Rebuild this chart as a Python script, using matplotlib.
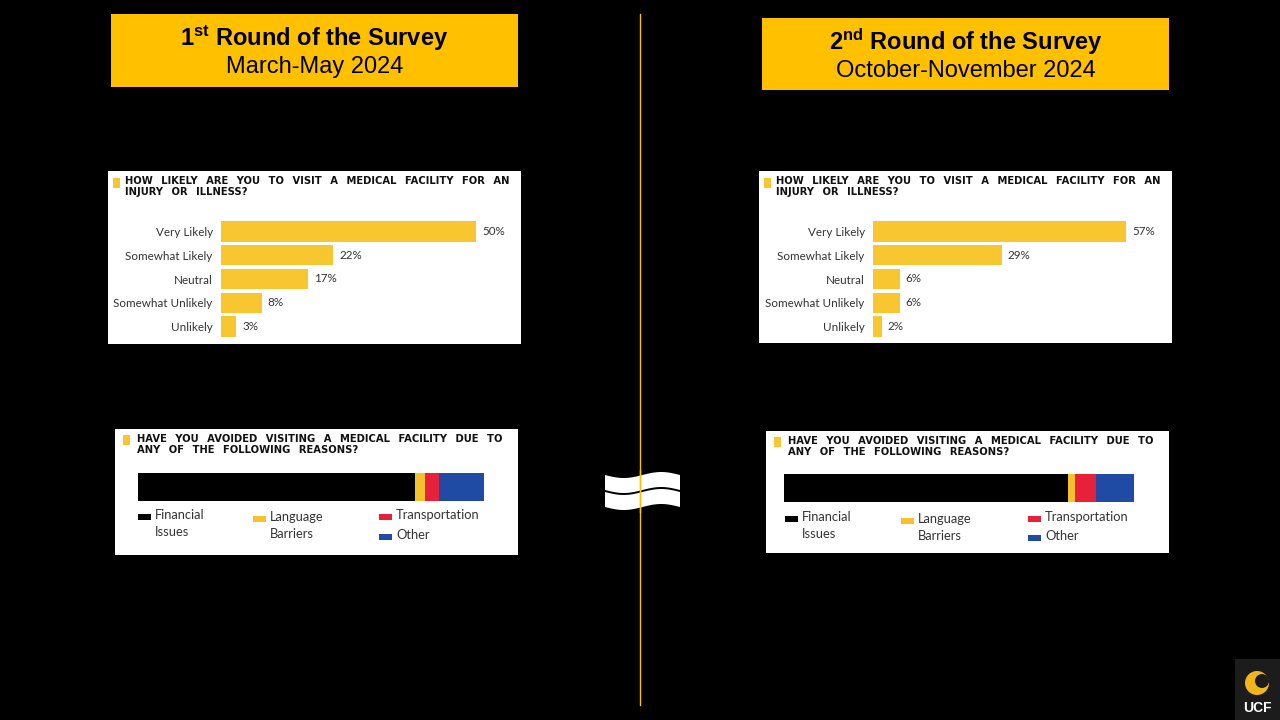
import numpy as np
import matplotlib
matplotlib.use("Agg")
import matplotlib.pyplot as plt
from matplotlib.patches import Rectangle, Polygon

plt.rcParams['mathtext.default'] = 'regular'

W, H = 1280, 720

# ---- data ----
likely_cats = ['Very Likely', 'Somewhat Likely', 'Neutral',
               'Somewhat Unlikely', 'Unlikely']
likely_r1 = [50, 22, 17, 8, 3]
likely_r2 = [57, 29, 6, 6, 2]

reason_names = ['Financial\nIssues', 'Language\nBarriers',
                'Transportation', 'Other']
reasons_r1 = [80, 3, 4, 13]
reasons_r2 = [81, 2, 6, 11]
reason_colors = ['#000000', '#F5C12E', '#E8213A', '#1F4BA5']

headers = [('1$^{st}$ Round of the Survey', 'March-May 2024'),
           ('2$^{nd}$ Round of the Survey', 'October-November 2024')]

q1 = 'HOW LIKELY ARE YOU TO VISIT A MEDICAL FACILITY FOR AN\nINJURY OR ILLNESS?'
q2 = 'HAVE YOU AVOIDED VISITING A MEDICAL FACILITY DUE TO\nANY OF THE FOLLOWING REASONS?'

GOLD = '#FFC000'
BAR = '#F8C630'
TXT = '#333333'


def rect(x0, y0, x1, y1):
    return [x0 / W, 1 - y1 / H, (x1 - x0) / W, (y1 - y0) / H]


def panel(x0, y0, x1, y1):
    ax = fig.add_axes(rect(x0, y0, x1, y1))
    ax.set_xlim(0, x1 - x0)
    ax.set_ylim(y1 - y0, 0)
    ax.set_facecolor('white')
    ax.set_xticks([])
    ax.set_yticks([])
    for s in ax.spines.values():
        s.set_visible(False)
    return ax


def question(p, x, y, s):
    # wide word spacing like the original heading
    s = s.replace(' ', ' \u2002')
    p.text(x, y, s, ha='left', va='top', fontsize=7.2, fontweight='bold',
           color='#111111', linespacing=1.1, family='DejaVu Sans')


fig = plt.figure(figsize=(12.8, 7.2), dpi=100, facecolor='black')

# background / divider
bg = fig.add_axes([0, 0, 1, 1])
bg.set_xlim(0, W)
bg.set_ylim(H, 0)
bg.set_facecolor('black')
bg.axis('off')
bg.plot([640, 640], [14, 705], color=GOLD, lw=1)

# approx-equal sign
xs = np.linspace(605, 680, 60)
wave = 3 * np.sin((xs - 605) / 75 * 2 * np.pi)
for top in (475, 492):
    pts = np.column_stack([np.r_[xs, xs[::-1]],
                           np.r_[top + wave, (top + 15 + wave)[::-1]]])
    bg.add_patch(Polygon(pts, closed=True, color='white', lw=0))
bg.plot([640, 640], [470, 512], color=GOLD, lw=1)

# UCF badge
bg.add_patch(Rectangle((1235, 659), 45, 61, color='#1c1c1c', lw=0))
bg.add_patch(plt.Circle((1257, 683), 12, color='#F2B51C', lw=0))
bg.add_patch(plt.Circle((1262, 681), 7, color='#1c1c1c', lw=0))
bg.text(1257, 708, 'UCF', color='white', fontsize=10, fontweight='bold',
        family='Liberation Sans', ha='center', va='center')

# header boxes
for (x0, y0, x1, y1), (l1, l2) in zip([(111, 14, 518, 87), (762, 18, 1169, 90)],
                                      headers):
    bg.add_patch(Rectangle((x0, y0), x1 - x0, y1 - y0, color=GOLD, lw=0))
    cx = (x0 + x1) / 2
    bg.text(cx, y0 + 24, l1, ha='center', va='center', fontsize=17,
            fontweight='bold', family='Liberation Sans', color='black')
    bg.text(cx, y0 + 53, l2, ha='center', va='center', fontsize=17,
            family='Liberation Sans', color='black')

# ---- likelihood panels ----
for (px0, py0, px1, py1), bx0, ppx, vals in [
        ((108, 171, 521, 344), 221, 5.1, likely_r1),
        ((759, 171, 1172, 343), 873, 4.44, likely_r2)]:
    p = panel(px0, py0, px1, py1)
    p.add_patch(Rectangle((5, 7), 7, 10, color=BAR, lw=0))
    question(p, 17, 5, q1)

    ax = fig.add_axes(rect(bx0, py0 + 48.5, px1 - 6, py0 + 167.5))
    ax.set_facecolor('none')
    y = np.arange(len(likely_cats))
    ax.barh(y, vals, height=0.86, color=BAR)
    ax.set_ylim(len(likely_cats) - 0.5, -0.5)
    ax.set_xlim(0, (px1 - 6 - bx0) / ppx)
    ax.set_yticks(y)
    ax.set_yticklabels(likely_cats, family='Lato', fontsize=8.4, color=TXT)
    ax.tick_params(axis='y', length=0, pad=6)
    ax.set_xticks([])
    for s in ax.spines.values():
        s.set_visible(False)
    for yi, v in zip(y, vals):
        ax.text(v + 6 / ppx, yi, f'{v}%', va='center', ha='left',
                family='Lato', fontsize=8.4, color=TXT)

# ---- reasons panels ----
for (px0, py0, px1, py1), (bx0, by0, bx1, by1), vals, legx, legy in [
        ((115, 429, 518, 555), (138, 473, 484, 501), reasons_r1,
         [138, 253, 379, 379], [517, 519, 517, 537]),
        ((766, 431, 1169, 553), (784, 474, 1134, 502), reasons_r2,
         [785, 901, 1028, 1028], [519, 521, 519, 538])]:
    p = panel(px0, py0, px1, py1)
    p.add_patch(Rectangle((8, 6), 7, 10, color=BAR, lw=0))
    question(p, 22, 5, q2)

    ax = fig.add_axes(rect(bx0, by0, bx1, by1))
    left = 0
    for v, c in zip(vals, reason_colors):
        ax.barh(0, v, left=left, height=1, color=c, lw=0)
        left += v
    ax.set_xlim(0, sum(vals))
    ax.set_ylim(-0.5, 0.5)
    ax.axis('off')

    for name, c, lx, ly in zip(reason_names, reason_colors, legx, legy):
        p.add_patch(Rectangle((lx - px0, ly - 3 - py0), 13, 6, color=c, lw=0))
        p.text(lx + 17 - px0, ly - 8 - py0, name, ha='left', va='top',
               family='Lato', fontsize=9.3, color=TXT, linespacing=1.45)

fig.savefig('out.png', dpi=100, facecolor='black')
